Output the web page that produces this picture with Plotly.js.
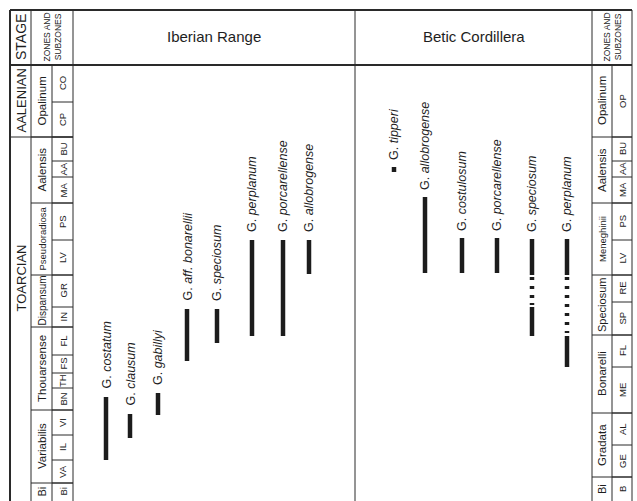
<!DOCTYPE html>
<html><head><meta charset="utf-8">
<script src="https://cdn.plot.ly/plotly-3.0.1.min.js"></script>
<style>html,body{margin:0;padding:0;background:#fff}</style>
</head><body><div id="chart" style="width:637px;height:501px"></div>
<script>
// ---- table frame (stratigraphic scale units, increasing downward) ----
const frameTop = 10, headBottom = 65, frameBottom = 501;
const leftCols = [10, 31, 52, 73];      // stage | zones | subzones
const rightCols = [592, 612, 632];      // zones | subzones
const sectionDivider = 355;
const sectionTitles = ["Iberian Range", "Betic Cordillera"];

const stageNames = ["AALENIAN", "TOARCIAN"];
const stageBounds = [65, 137, 501];
const stageLabelPos = [101, 278];

const leftZoneNames = ["Opalinum","Aalensis","Pseudoradiosa","Dispansum","Thouarsense","Variabilis","Bi"];
const leftZoneBounds = [65,137,203,275,327,410,483,501];
const leftZoneSizes = [11.5,11.5,9.5,10,11.5,11.5,11];
const leftSubNames = ["CO","CP","BU","AA","MA","PS","LV","GR","IN","FL","FS","TH","BN","VI","IL","VA","Bi"];
const leftSubBounds = [65,102,137,161,177,203,240,275,307,327,355,373,388,410,435,460,483,501];

const rightZoneNames = ["Opalinum","Aalensis","Meneghinii","Speciosum","Bonarelli","Gradata","Bi"];
const rightZoneBounds = [65,137,203,275,335,413,477,501];
const rightZoneSizes = [11.5,11.5,9.5,11,11.5,11.5,11];
const rightSubNames = ["OP","BU","AA","MA","PS","LV","RE","SP","FL","ME","AL","GE","B"];
const rightSubBounds = [65,137,161,177,203,240,275,302,335,367,413,445,477,501];

// ---- Iberian Range ranges ----
const ibNames = ["costatum","clausum","gabillyi","aff. bonarellii","speciosum","perplanum","porcarellense","allobrogense"];
const ibX = [106,130,158,187,217,252,283,309];
const ibTop = [397,414,393,309,309,240,240,240];
const ibBase = [460,438,415,361,343,336,336,274];

// ---- Betic Cordillera ranges ----
const btNames = ["tipperi","allobrogense","costulosum","porcarellense","speciosum","perplanum"];
const btX = [394,425,462,497,532,567];
const btSolidTops = [[167],[197],[238],[238],[239,307],[239,336]];
const btSolidBases = [[172],[273],[273],[273],[275,336],[275,367]];
const btDashTops = [[],[],[],[],[277,286,295,303],[277,286,295,304,313,322,331]];
const btDashBases = [[],[],[],[],[280,289,298,305],[280,289,298,307,316,325,333]];

const FONT = "Liberation Sans, Arial, sans-serif";
const LINE = "#2a2a2a", TXT = "#1e1e1e";
const shapes = [], ann = [];
function seg(x0,y0,x1,y1,w){shapes.push({type:"line",xref:"x",yref:"y",x0:x0,y0:y0,x1:x1,y1:y1,line:{color:LINE,width:w||1}});}
function label(x,y,t,size,angle,opts){ann.push(Object.assign({x:x,y:y,xref:"x",yref:"y",text:t,showarrow:false,textangle:angle,font:{family:FONT,size:size,color:TXT}},opts||{}));}

// frame
seg(leftCols[0],frameTop,rightCols[2],frameTop,2);
seg(leftCols[0],headBottom,rightCols[2],headBottom,2);
seg(leftCols[0],frameTop,leftCols[0],frameBottom,2);
[leftCols[1],leftCols[3],sectionDivider,rightCols[0],rightCols[2]].forEach(x=>seg(x,frameTop,x,frameBottom,1));
seg(leftCols[2],headBottom,leftCols[2],frameBottom,1);
seg(rightCols[1],headBottom,rightCols[1],frameBottom,1);

// stage
stageBounds.slice(1,-1).forEach(y=>seg(leftCols[0],y,leftCols[3],y,1));
label((leftCols[0]+leftCols[1])/2,(frameTop+headBottom)/2,"STAGE",14,-90);
stageNames.forEach((n,i)=>label((leftCols[0]+leftCols[1])/2,stageLabelPos[i],n,13,-90));

// left zones
label((leftCols[1]+leftCols[3])/2,(frameTop+headBottom)/2,"ZONES AND<br>SUBZONES",8.5,-90);
leftZoneBounds.slice(1,-1).forEach(y=>seg(leftCols[1],y,leftCols[3],y,1));
leftSubBounds.slice(1,-1).forEach(y=>seg(leftCols[2],y,leftCols[3],y,1));
leftZoneNames.forEach((n,i)=>label((leftCols[1]+leftCols[2])/2,(leftZoneBounds[i]+leftZoneBounds[i+1])/2,n,leftZoneSizes[i],-90));
leftSubNames.forEach((n,i)=>label((leftCols[2]+leftCols[3])/2,(leftSubBounds[i]+leftSubBounds[i+1])/2,n,9.5,-90));

// right zones
label((rightCols[0]+rightCols[2])/2,(frameTop+headBottom)/2,"ZONES AND<br>SUBZONES",8.5,-90);
rightZoneBounds.slice(1,-1).forEach(y=>seg(rightCols[0],y,rightCols[2],y,1));
rightSubBounds.slice(1,-1).forEach(y=>seg(rightCols[1],y,rightCols[2],y,1));
rightZoneNames.forEach((n,i)=>label((rightCols[0]+rightCols[1])/2,(rightZoneBounds[i]+rightZoneBounds[i+1])/2,n,rightZoneSizes[i],-90));
rightSubNames.forEach((n,i)=>label((rightCols[1]+rightCols[2])/2,(rightSubBounds[i]+rightSubBounds[i+1])/2,n,9.5,-90));

// section titles
label((leftCols[3]+sectionDivider)/2,(frameTop+headBottom)/2-1,sectionTitles[0],15,0);
label((sectionDivider+rightCols[0])/2,(frameTop+headBottom)/2-1,sectionTitles[1],15,0);

// range bars
const bx=[], by=[];
function addSeg(x,a,b){bx.push(x,x,null);by.push(a,b,null);}
ibNames.forEach((n,i)=>{
  addSeg(ibX[i],ibTop[i],ibBase[i]);
  label(ibX[i],ibTop[i]-6,"G. <i>"+n+"</i>",12.5,-90,{yanchor:"bottom"});
});
btNames.forEach((n,i)=>{
  btSolidTops[i].forEach((t,j)=>addSeg(btX[i],t,btSolidBases[i][j]));
  btDashTops[i].forEach((t,j)=>addSeg(btX[i],t,btDashBases[i][j]));
  label(btX[i],btSolidTops[i][0]-5,"G. <i>"+n+"</i>",12.5,-90,{yanchor:"bottom"});
});

const traces=[{type:"scatter",mode:"lines",x:bx,y:by,line:{color:"#1c1c1c",width:4.5},hoverinfo:"skip",connectgaps:false}];

Plotly.newPlot("chart",traces,{
  width:637,height:501,margin:{l:0,r:0,t:0,b:0},
  paper_bgcolor:"#fff",plot_bgcolor:"#fff",showlegend:false,
  xaxis:{range:[0,637],visible:false,fixedrange:true},
  yaxis:{range:[501,0],visible:false,fixedrange:true},
  shapes:shapes,annotations:ann
},{staticPlot:true});
</script></body></html>
